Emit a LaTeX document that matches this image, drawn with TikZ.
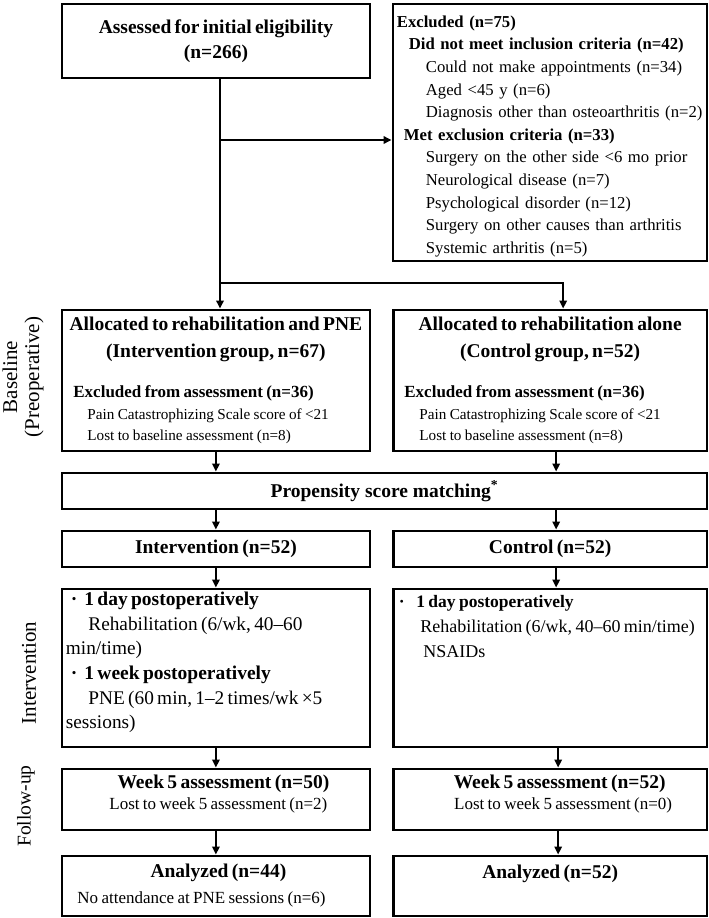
\documentclass[tikz,border=0pt]{standalone}
\usepackage{fontspec}
\setmainfont{Liberation Serif}
\usetikzlibrary{arrows.meta}

\newcommand{\fhead}{\fontsize{19.5}{25}\selectfont\bfseries}
\newcommand{\fheadwide}{\fontsize{19.5}{27}\selectfont\bfseries}
\newcommand{\fexcl}{\fontsize{16.7}{22.6}\selectfont}
\newcommand{\fsub}{\fontsize{17}{22}\selectfont\bfseries}
\newcommand{\fbody}{\fontsize{15.2}{21.5}\selectfont}
\newcommand{\fbig}{\fontsize{19.3}{24.5}\selectfont}
\newcommand{\fbigb}{\fontsize{17.5}{25}\selectfont\bfseries}
\newcommand{\fmid}{\fontsize{18}{25}\selectfont}
\newcommand{\fnote}{\fontsize{17}{21}\selectfont}
\newcommand{\fside}{\fontsize{21}{22}\selectfont}
\newcommand{\dotmark}[2]{\makebox[#2][l]{\hspace{#1}·}}
\newcommand{\padbottom}[1]{\par\nointerlineskip\vspace{#1}\null}

\begin{document}
\begin{tikzpicture}[x=1pt, y=-1pt,
    box/.style={draw, line width=2.8pt, anchor=north west, inner xsep=4pt, inner ysep=0pt},
    lcol/.style={box, minimum width=308pt, text width=300pt},
    rcol/.style={box, minimum width=313.5pt, text width=305.5pt},
    conn/.style={line width=1.8pt},
    arr/.style={conn, -{Triangle[length=8pt,width=7.5pt]}}]
    \useasboundingbox (0,0) rectangle (709,918);

    % Phase labels
    \node[rotate=90, align=center, font=\fside] (lblbase) at (23,377) {Baseline\\(Preoperative)};
    \node[rotate=90, font=\fside] (lblint) at (29,673) {Intervention};
    \node[rotate=90, font=\fontsize{19.5}{22}\selectfont] (lblfollow) at (26,806) {Follow-up};

    % Screening
    \node[lcol, minimum height=74pt] (assess) at (60.5,2.5) {%
        {\centering\fhead Assessed for initial eligibility\\(n=266)\par}};
    \node[box, minimum width=314pt, minimum height=257pt, text width=306pt, font=\fexcl] (excl) at (391.5,2.5) {%
        \textbf{Excluded (n=75)}\\
        \hspace*{12pt}\textbf{Did not meet inclusion criteria (n=42)}\\
        \hspace*{29pt}Could not make appointments (n=34)\\
        \hspace*{29pt}Aged <45 y (n=6)\\
        \hspace*{29pt}Diagnosis other than osteoarthritis (n=2)\\
        \hspace*{7pt}\textbf{Met exclusion criteria (n=33)}\\
        \hspace*{29pt}Surgery on the other side <6 mo prior\\
        \hspace*{29pt}Neurological disease (n=7)\\
        \hspace*{29pt}Psychological disorder (n=12)\\
        \hspace*{29pt}Surgery on other causes than arthritis\\
        \hspace*{29pt}Systemic arthritis (n=5)
        \padbottom{-8pt}};

    % Allocation
    \node[lcol, minimum height=141pt] (alloca) at (60.5,308.5) {%
        {\centering\fheadwide \mbox{Allocated to rehabilitation and PNE}\\(Intervention group, n=67)\par}
        \vspace{18pt}
        {\fsub\hspace*{7.5pt}Excluded from assessment (n=36)\par}
        {\fbody\hspace*{21.5pt}Pain Catastrophizing Scale score of <21\\
        \hspace*{21.5pt}Lost to baseline assessment (n=8)\par}};
    \node[rcol, minimum height=141pt] (allocb) at (392,308.5) {%
        {\centering\fheadwide Allocated to rehabilitation alone\\(Control group, n=52)\par}
        \vspace{18pt}
        {\fsub\hspace*{7pt}Excluded from assessment (n=36)\par}
        {\fbody\hspace*{22pt}Pain Catastrophizing Scale score of <21\\
        \hspace*{22pt}Lost to baseline assessment (n=8)\par}};

    % Matching
    \node[box, minimum width=645pt, minimum height=36pt, font=\fhead] (psm) at (60.5,471.5)
        {Propensity score matching\textsuperscript{*}};

    % Groups
    \node[lcol, minimum height=36pt] (intgrp) at (60.5,529.5) {%
        {\centering\fhead Intervention (n=52)\par}};
    \node[rcol, minimum height=36pt] (ctlgrp) at (392,529.5) {%
        {\centering\fhead Control (n=52)\par}};

    % Treatment
    \node[lcol, minimum height=158pt] (intplan) at (60.5,587.5) {%
        {\fhead\dotmark{5pt}{18.5pt}1 day postoperatively\par}
        {\fbig\hspace*{22.5pt}Rehabilitation (6/wk, 40--60\\min/time)\par}
        {\fhead\dotmark{5pt}{18.5pt}1 week postoperatively\par}
        {\fbig\hspace*{22.5pt}PNE (60 min, 1--2 times/wk ×5\\sessions)\par}
        \padbottom{11pt}};
    \node[rcol, minimum height=158pt] (ctlplan) at (392,587.5) {%
        {\fbigb\dotmark{1.5pt}{19pt}1 day postoperatively\par}
        {\fmid\hspace*{23pt}\mbox{Rehabilitation (6/wk, 40--60 min/time)}\\
        \hspace*{26pt}NSAIDs\par}
        \padbottom{82pt}};

    % Follow-up
    \node[lcol, minimum height=61pt] (intweek) at (60.5,767.5) {%
        {\centering\fhead\hspace*{15pt}Week 5 assessment (n=50)\par}
        {\centering\fnote\hspace*{5pt}Lost to week 5 assessment (n=2)\par}
        \padbottom{10pt}};
    \node[rcol, minimum height=61pt] (ctlweek) at (392,767.5) {%
        {\centering\fhead\hspace*{19pt}Week 5 assessment (n=52)\par}
        {\centering\fnote\hspace*{26pt}Lost to week 5 assessment (n=0)\par}
        \padbottom{10pt}};

    % Analysis
    \node[lcol, minimum height=60pt] (intdone) at (60.5,854.5) {%
        {\centering\fhead\hspace*{5pt}Analyzed (n=44)\par}
        {\fontsize{17}{26}\selectfont\hspace*{11.5pt}No attendance at PNE sessions (n=6)\par}};
    \node[rcol, minimum height=60pt] (ctldone) at (392,854.5) {%
        {\centering\fhead Analyzed (n=52)\par}
        \padbottom{24pt}};

    % Connectors
    \coordinate (split) at (220,140);
    \coordinate (fork) at (220,283);
    \draw[conn] (assess.south -| split) -- (fork);
    \draw[arr] (split) -- (split -| excl.west);
    \draw[arr] (fork) -- (fork |- alloca.north);
    \draw[arr] (fork) -| ([xshift=13pt]allocb.north);
    \draw[arr] (alloca.south) -- (alloca.south |- psm.north);
    \draw[arr] ([xshift=6pt]allocb.south) -- ([xshift=6pt]allocb.south |- psm.north);
    \draw[arr] (intgrp.north |- psm.south) -- (intgrp.north);
    \draw[arr] ([xshift=6pt]ctlgrp.north |- psm.south) -- ([xshift=6pt]ctlgrp.north);
    \draw[arr] (intgrp.south) -- (intplan.north);
    \draw[arr] ([xshift=6pt]ctlgrp.south) -- ([xshift=6pt]ctlplan.north);
    \draw[arr] (intplan.south) -- (intweek.north);
    \draw[arr] ([xshift=8pt]ctlplan.south) -- ([xshift=8pt]ctlweek.north);
    \draw[arr] (intweek.south) -- (intdone.north);
    \draw[arr] ([xshift=8pt]ctlweek.south) -- ([xshift=8pt]ctldone.north);
\end{tikzpicture}
\end{document}
